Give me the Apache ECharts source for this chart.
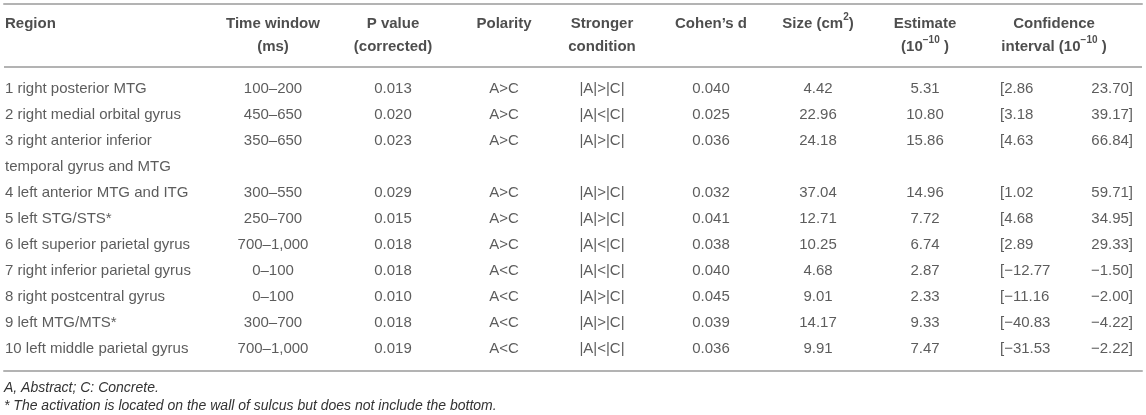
<!DOCTYPE html>
<html>
<head>
<meta charset="utf-8">
<script src="https://cdn.jsdelivr.net/npm/echarts@6/dist/echarts.min.js"></script>
<style>
html, body { margin: 0; padding: 0; background: #fff; }
#tableBox { width: 1146px; height: 415px; }
</style>
</head>
<body>
<div id="tableBox"></div>
<script>
// table data
const headers = ['Region', 'Time window\n(ms)', 'P value\n(corrected)', 'Polarity', 'Stronger\ncondition',
	'Cohen’s d', 'Size (cm{sup|2})', 'Estimate\n(10{sup|−10} )', 'Confidence\ninterval (10{sup|−10} )'];
const regions = ['1 right posterior MTG', '2 right medial orbital gyrus',
	'3 right anterior inferior\ntemporal gyrus and MTG', '4 left anterior MTG and ITG', '5 left STG/STS*',
	'6 left superior parietal gyrus', '7 right inferior parietal gyrus', '8 right postcentral gyrus',
	'9 left MTG/MTS*', '10 left middle parietal gyrus'];
const timeWindows = ['100–200', '450–650', '350–650', '300–550', '250–700', '700–1,000', '0–100', '0–100', '300–700', '700–1,000'];
const pValues = [0.013, 0.020, 0.023, 0.029, 0.015, 0.018, 0.018, 0.010, 0.018, 0.019];
const polarity = ['A>C', 'A>C', 'A>C', 'A>C', 'A>C', 'A>C', 'A<C', 'A<C', 'A<C', 'A<C'];
const stronger = ['|A|>|C|', '|A|<|C|', '|A|>|C|', '|A|>|C|', '|A|>|C|', '|A|<|C|', '|A|<|C|', '|A|>|C|', '|A|>|C|', '|A|<|C|'];
const cohensD = [0.040, 0.025, 0.036, 0.032, 0.041, 0.038, 0.040, 0.045, 0.039, 0.036];
const sizes = [4.42, 22.96, 24.18, 37.04, 12.71, 10.25, 4.68, 9.01, 14.17, 9.91];
const estimates = [5.31, 10.80, 15.86, 14.96, 7.72, 6.74, 2.87, 2.33, 9.33, 7.47];
const ciLow = [2.86, 3.18, 4.63, 1.02, 4.68, 2.89, -12.77, -11.16, -40.83, -31.53];
const ciHigh = [23.70, 39.17, 66.84, 59.71, 34.95, 29.33, -1.50, -2.00, -4.22, -2.22];
const footnote = 'A, Abstract; C: Concrete.';
const footnote2 = '* The activation is located on the wall of sulcus but does not include the bottom.';

// layout (px)
const LINE = 26;
const RULE_TOP = 4, HEADER_TEXT_TOP = 12.5, HEADER_RULE = 67, BODY_TOP = 76, RULE_BOTTOM = 371;
const FONT = '"Liberation Sans", Arial, Helvetica, sans-serif';
const RULE = { color: '#b3b3b3', width: 2 };

function px2line(p) { return (p - BODY_TOP) / LINE; }
function num(v, d) { return (v < 0 ? '−' : '') + Math.abs(v).toFixed(d); }

// line index of each row (row 3 takes two lines)
const rowLine = [];
let cur = 0;
regions.forEach(r => { rowLine.push(cur); cur += r.split('\n').length; });

// columns: x anchor, alignment, cell texts
const columns = [
	{ x: 5, align: 'left', head: 'left', cells: regions },
	{ x: 273, align: 'center', cells: timeWindows },
	{ x: 393, align: 'center', cells: pValues.map(v => num(v, 3)) },
	{ x: 504, align: 'center', cells: polarity },
	{ x: 602, align: 'center', cells: stronger },
	{ x: 711, align: 'center', cells: cohensD.map(v => num(v, 3)) },
	{ x: 818, align: 'center', cells: sizes.map(v => num(v, 2)) },
	{ x: 925, align: 'center', cells: estimates.map(v => num(v, 2)) },
	{ x: 1000, align: 'left', cells: ciLow.map(v => '[' + num(v, 2)) },
	{ x: 1133, align: 'right', cells: ciHigh.map(v => num(v, 2) + ']') }
];
const headX = [5, 273, 393, 504, 602, 711, 818, 925, 1054];
const headAlign = ['left', 'center', 'center', 'center', 'center', 'center', 'center', 'center', 'center'];

let myChart = echarts.init(document.getElementById('tableBox'));

let series = columns.map(col => ({
	type: 'scatter',
	symbolSize: 1,
	itemStyle: { color: 'rgba(0,0,0,0)' },
	silent: true,
	clip: false,
	data: col.cells.map((t, i) => [col.x, rowLine[i], t]),
	label: {
		show: true,
		position: 'inside',
		align: col.align,
		verticalAlign: 'top',
		formatter: p => p.value[2],
		fontFamily: FONT,
		fontSize: 15,
		lineHeight: LINE,
		color: '#333'
	}
}));

// header row
series.push({
	type: 'scatter',
	symbolSize: 1,
	itemStyle: { color: 'rgba(0,0,0,0)' },
	silent: true,
	clip: false,
	data: headers.map((h, i) => ({
		value: [headX[i], px2line(HEADER_TEXT_TOP), h],
		label: { align: headAlign[i] }
	})),
	label: {
		show: true,
		position: 'inside',
		verticalAlign: 'top',
		formatter: p => p.value[2],
		fontFamily: FONT,
		fontSize: 15,
		fontWeight: 'bold',
		lineHeight: 23,
		color: '#222',
		rich: {
			sup: { fontFamily: FONT, fontSize: 10, fontWeight: 'bold', color: '#222', verticalAlign: 'top', lineHeight: 16 }
		}
	},
	markLine: {
		silent: true,
		symbol: 'none',
		label: { show: false },
		lineStyle: { color: RULE.color, width: RULE.width, type: 'solid' },
		data: [{ yAxis: px2line(HEADER_RULE) }]
	}
});

let axisBase = {
	type: 'value',
	min: 4,
	max: 1142,
	axisLine: { show: true, onZero: false, lineStyle: RULE },
	axisTick: { show: false },
	axisLabel: { show: false },
	splitLine: { show: false }
};

let option = {
	animation: false,
	backgroundColor: '#fff',
	title: {
		text: footnote,
		subtext: footnote2,
		left: 4,
		top: 380,
		padding: 0,
		itemGap: 1,
		textStyle: { fontFamily: FONT, fontSize: 14, fontStyle: 'italic', fontWeight: 'normal', color: '#333', lineHeight: 17 },
		subtextStyle: { fontFamily: FONT, fontSize: 14, fontStyle: 'italic', color: '#333', lineHeight: 17 }
	},
	grid: { left: 4, right: 4, top: RULE_TOP, height: RULE_BOTTOM - RULE_TOP },
	xAxis: [
		Object.assign({}, axisBase, { position: 'top' }),
		Object.assign({}, axisBase, { position: 'bottom' })
	],
	yAxis: {
		type: 'value',
		inverse: true,
		min: px2line(RULE_TOP),
		max: px2line(RULE_BOTTOM),
		show: false
	},
	series: series
};
myChart.setOption(option, true);
</script>
</body>
</html>
